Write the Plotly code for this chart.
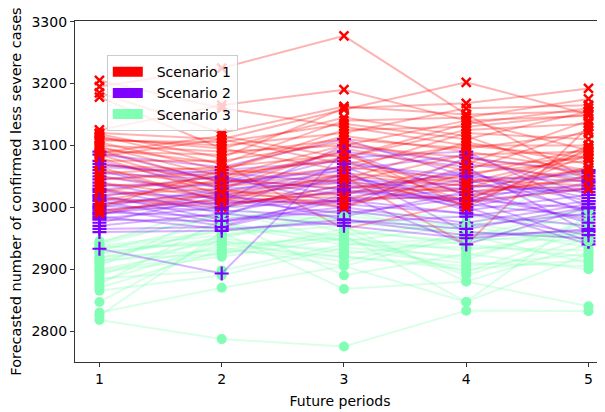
import plotly.graph_objects as go

periods = [1, 2, 3, 4, 5]
tick_values_y = [2800, 2900, 3000, 3100, 3200, 3300]

scenario_names = ["Scenario 1", "Scenario 2", "Scenario 3"]
scenario_colors = ["#ff0000", "#8000ff", "#80ffb4"]
scenario_line_colors = ["rgba(255,0,0,0.3)", "rgba(128,0,255,0.3)", "rgba(128,255,180,0.3)"]

scenario1 = [
    [3205, 3160, 3130, 3100, 3080],
    [3195, 3225, 3277, 3150, 3045],
    [3185, 3120, 3163, 3150, 3155],
    [3178, 3095, 3060, 3120, 3110],
    [3125, 3165, 3190, 3140, 3092],
    [3120, 3110, 3158, 3202, 3150],
    [3118, 3080, 3160, 3168, 3192],
    [3115, 3070, 3140, 3145, 3175],
    [3110, 3100, 3120, 3160, 3165],
    [3108, 3105, 3135, 3110, 3155],
    [3105, 3060, 3125, 3130, 3150],
    [3100, 3090, 3100, 3140, 3148],
    [3098, 3050, 3080, 3125, 3135],
    [3095, 3071, 2965, 3008, 3030],
    [3092, 3040, 3050, 2940, 3130],
    [3090, 3085, 3110, 3095, 3120],
    [3085, 3030, 3095, 3060, 3125],
    [3082, 3110, 3070, 3100, 3100],
    [3080, 3020, 3040, 3085, 3090],
    [3075, 3075, 3105, 3070, 3140],
    [3070, 3045, 3030, 3050, 3095],
    [3068, 3060, 3115, 3090, 3060],
    [3065, 3010, 3055, 3040, 3085],
    [3060, 3035, 3045, 3105, 3070],
    [3055, 3065, 3085, 3020, 3050],
    [3050, 3025, 3020, 3075, 3040],
    [3045, 3055, 3075, 3010, 3100],
    [3040, 3015, 3010, 3065, 3080],
    [3035, 3040, 3065, 3045, 3035],
    [3030, 3005, 3025, 3030, 3090],
    [3025, 3050, 3100, 3080, 3055],
    [3020, 3030, 3000, 3055, 3075],
    [3015, 3000, 3035, 3025, 3045],
    [3010, 3045, 3090, 3000, 3095],
    [3005, 3020, 3015, 3015, 3065],
    [3000, 3060, 3050, 3035, 3030],
    [2995, 3012, 3005, 3040, 3060],
    [2990, 3025, 3045, 3005, 3085],
    [3112, 3095, 3145, 3115, 3045],
    [3088, 3115, 3080, 3135, 3160],
]

scenario2 = [
    [3090, 3040, 3060, 3085, 3020],
    [3085, 3065, 3110, 3050, 3010],
    [3075, 3030, 3080, 3090, 3000],
    [3065, 3055, 3040, 3030, 3060],
    [3060, 3010, 3100, 3070, 3045],
    [3055, 3045, 3020, 3060, 2990],
    [3050, 3020, 3050, 3010, 3030],
    [3045, 3060, 3075, 3040, 3055],
    [3040, 3000, 3010, 3020, 2980],
    [3035, 3035, 3065, 3000, 3040],
    [3030, 2990, 3030, 3055, 3015],
    [3028, 3050, 3005, 2990, 2970],
    [3025, 3015, 3045, 3035, 3025],
    [3020, 2980, 3000, 2975, 3005],
    [3018, 3040, 3090, 3065, 2960],
    [3015, 3005, 3025, 3010, 3050],
    [3010, 2975, 3015, 3045, 2995],
    [3005, 3025, 3060, 2960, 2950],
    [3002, 2995, 2985, 3025, 3035],
    [3000, 3030, 3040, 3005, 2985],
    [2998, 2970, 3020, 2940, 3000],
    [2995, 3012, 2990, 3015, 2945],
    [2992, 2985, 3055, 2995, 3020],
    [2990, 3008, 3010, 3030, 2975],
    [2985, 2965, 2975, 2985, 3010],
    [2982, 3000, 3035, 3000, 2940],
    [2980, 2978, 2995, 2970, 2990],
    [2975, 3018, 3000, 3080, 3058],
    [2970, 2990, 2970, 2950, 2965],
    [2965, 2968, 3012, 2990, 2955],
    [2960, 2962, 2980, 2965, 3000],
    [2933, 2893, 3090, 3020, 3030],
    [3070, 3048, 3028, 3012, 2998],
    [3012, 2998, 3070, 3050, 3042],
    [2988, 3022, 2980, 2955, 2962],
]

scenario3 = [
    [2945, 2985, 2975, 2960, 2950],
    [2942, 3005, 2960, 2945, 2990],
    [2938, 2960, 2990, 2985, 2970],
    [2935, 2940, 2950, 2930, 2960],
    [2930, 2975, 2945, 2970, 2935],
    [2925, 2950, 2995, 2950, 3000],
    [2920, 2930, 2920, 2905, 2925],
    [2918, 2965, 2955, 2975, 2945],
    [2915, 2925, 2965, 2940, 2920],
    [2910, 2945, 2912, 2960, 2955],
    [2905, 2995, 2945, 2915, 2980],
    [2900, 2935, 2905, 2955, 2910],
    [2895, 2920, 2950, 2895, 2965],
    [2890, 2955, 2970, 2880, 2940],
    [2885, 2898, 2940, 2935, 2930],
    [2880, 2940, 2920, 2900, 2915],
    [2875, 2980, 2890, 2925, 2900],
    [2870, 2930, 2960, 2890, 2950],
    [2865, 2890, 2935, 2920, 2975],
    [2847, 2950, 2925, 2945, 2960],
    [2830, 2870, 2905, 2847, 2990],
    [2825, 2960, 2868, 2880, 2840],
    [2818, 2787, 2775, 2833, 2832],
    [2940, 2990, 2980, 2965, 3065],
    [2928, 2945, 2930, 2910, 2905],
    [2912, 2970, 2940, 2950, 2945],
    [2898, 2925, 2955, 2847, 2925],
    [2935, 2955, 2985, 2970, 2995],
]

scenarios = [scenario1, scenario2, scenario3]
marker_symbols = ["x-thin", "cross-thin", "circle"]

fig = go.Figure()

n_max = max(len(s) for s in scenarios)
for i in range(n_max):
    for k, s in enumerate(scenarios):
        if i >= len(s):
            continue
        sym = marker_symbols[k]
        if sym == "circle":
            marker = dict(symbol=sym, size=10, color=scenario_colors[k], line=dict(width=0))
        elif sym == "cross-thin":
            marker = dict(symbol=sym, size=10, color=scenario_colors[k],
                          line=dict(width=2.2, color=scenario_colors[k]))
        else:
            marker = dict(symbol=sym, size=9, color=scenario_colors[k],
                          line=dict(width=2.5, color=scenario_colors[k]))
        fig.add_trace(go.Scatter(
            x=periods, y=s[i], mode="lines+markers",
            line=dict(color=scenario_line_colors[k], width=2),
            marker=marker, showlegend=False, hoverinfo="skip",
        ))

for k, name in enumerate(scenario_names):
    fig.add_trace(go.Scatter(
        x=[None], y=[None], mode="lines", name="  " + name,
        line=dict(color=scenario_colors[k], width=12),
        legendgroup=name, showlegend=True,
    ))

# page body adds an 8px offset; figure is sized so the plot lands where the reference has it
fig.update_layout(
    width=597, height=404,
    margin=dict(l=67, r=0, t=13, b=50),
    paper_bgcolor="white", plot_bgcolor="white",
    font=dict(family="DejaVu Sans", size=14, color="black"),
    showlegend=True,
    legend=dict(
        x=0.06, y=0.9, xanchor="left", yanchor="top",
        bgcolor="rgba(255,255,255,0.8)", bordercolor="#cccccc", borderwidth=1,
        font=dict(size=14, family="DejaVu Sans"), tracegroupgap=0,
    ),
    xaxis=dict(
        range=[0.8, 5.135], tickmode="array", tickvals=periods,
        ticktext=[str(p) for p in periods], automargin=False,
        showgrid=False, zeroline=False, showline=True, linecolor="#333333",
        linewidth=1.2, mirror=True, ticks="outside", ticklen=4, tickcolor="#333333",
        tickfont=dict(size=14),
        title=dict(text="Future periods", standoff=10, font=dict(size=14)),
    ),
    yaxis=dict(
        range=[2750, 3301], tickmode="array", tickvals=tick_values_y, automargin=False,
        showgrid=False, zeroline=False, showline=True, linecolor="#333333",
        linewidth=1.2, ticks="outside", ticklen=4, tickcolor="#333333",
        tickfont=dict(size=14),
        title=dict(text="Forecasted number of confirmed less severe cases", standoff=7,
                   font=dict(size=14.5)),
    ),
)

fig.write_html("out.html")
